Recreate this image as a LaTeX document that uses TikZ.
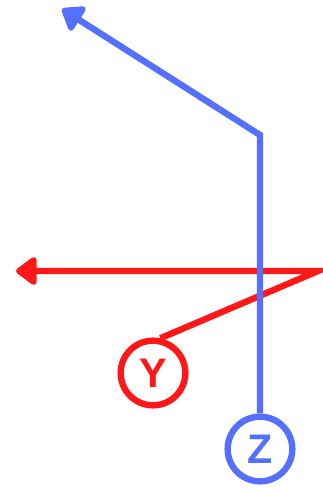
\documentclass[tikz,border=0pt]{standalone}
\usepackage{fontspec}
\setsansfont{Liberation Sans}
\usetikzlibrary{arrows.meta}
\definecolor{routeblue}{RGB}{85,112,255}
\definecolor{routered}{RGB}{255,24,24}

\begin{document}
\begin{tikzpicture}[x=0.75pt, y=-0.75pt, line width=4.8pt,
  player/.style={draw, circle, fill=white, minimum size=48.5pt, inner sep=0pt, font=\fontsize{31}{31}\sffamily\bfseries},
  route/.style={-{Triangle[round, length=17pt, width=24pt]}}]
\useasboundingbox (0,0) rectangle (323,493);
\node[player, draw=routered, text=routered] (y) at (153,373) {Y};
\node[player, draw=routeblue, text=routeblue] (z) at (260,449) {Z};
\coordinate (rcorner) at (318,271);
\coordinate (rtip) at (16,271);
\coordinate (bcorner) at (260,135);
\coordinate (btip) at (62,9);
\draw[route, routered] (y.78) -- (rcorner) -- (rtip);
\draw[route, routeblue] (z.north) -- (bcorner) -- (btip);
\end{tikzpicture}
\end{document}
